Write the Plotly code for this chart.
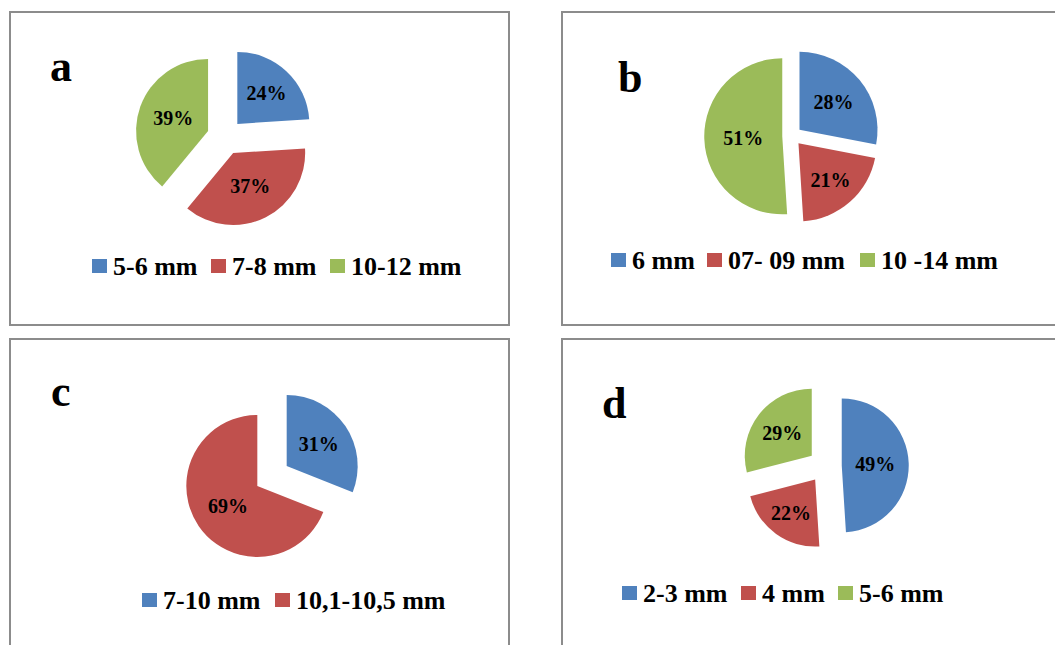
import plotly.graph_objects as go

# Size classes and their shares (%) for the four samples
labels_a = ["5-6 mm", "7-8 mm", "10-12 mm"]
values_a = [24, 37, 39]

labels_b = ["6 mm", "07- 09 mm", "10 -14 mm"]
values_b = [28, 21, 51]

labels_c = ["7-10 mm", "10,1-10,5 mm"]
values_c = [31, 69]

labels_d = ["2-3 mm", "4 mm", "5-6 mm"]
values_d = [49, 22, 29]

panel_letters = ["a", "b", "c", "d"]
colors = ["#4F81BD", "#C0504D", "#9BBB59"]

W, H = 1055, 645
SERIF = "Liberation Serif, Times New Roman, serif"


def fx(x):
    return x / W


def fy(y):
    return 1 - y / H


# panel layout in pixels: frame box, pie centre/radius/pull, legend row, letter
panels = [
    dict(labels=labels_a, values=values_a, frame=(10, 12, 509, 325),
         centre=(225, 137), radius=72, pull=0.25,
         legend_y=266, legend_x=[92, 211, 330], letter=(61, 67)),
    dict(labels=labels_b, values=values_b, frame=(562, 12, 1060, 325),
         centre=(792, 136), radius=78, pull=0.125,
         legend_y=260, legend_x=[611, 707, 860], letter=(630, 78)),
    dict(labels=labels_c, values=values_c, frame=(10, 339, 509, 650),
         centre=(272, 476), radius=71, pull=0.25,
         legend_y=600, legend_x=[142, 275], letter=(61, 391)),
    dict(labels=labels_d, values=values_d, frame=(562, 339, 1060, 650),
         centre=(825, 466), radius=67, pull=0.25,
         legend_y=593, legend_x=[622, 741, 838], letter=(614, 403)),
]

fig = go.Figure()
shapes = []
annotations = []

for letter, p in zip(panel_letters, panels):
    x0, y0, x1, y1 = p["frame"]
    shapes.append(dict(type="rect", xref="paper", yref="paper",
                       x0=fx(x0), x1=fx(x1), y0=fy(y1), y1=fy(y0),
                       line=dict(color="#8C8C8C", width=2),
                       fillcolor="rgba(0,0,0,0)", layer="below"))

    cx, cy = p["centre"]
    half = p["radius"] * (1 + p["pull"])
    n = len(p["values"])
    fig.add_trace(go.Pie(
        labels=p["labels"], values=p["values"],
        marker=dict(colors=colors[:n], line=dict(width=0)),
        pull=[p["pull"]] * n,
        sort=False, direction="clockwise", rotation=0,
        texttemplate="%{value}%", textposition="inside",
        insidetextorientation="horizontal",
        textfont=dict(family=SERIF, size=20, color="black", weight="bold"),
        domain=dict(x=[fx(cx - half), fx(cx + half)],
                    y=[fy(cy + half), fy(cy - half)]),
        showlegend=False, hoverinfo="label+percent",
    ))

    # legend row: square swatch followed by the class label
    ly = p["legend_y"]
    for i, lab in enumerate(p["labels"]):
        sx = p["legend_x"][i]
        shapes.append(dict(type="rect", xref="paper", yref="paper",
                           x0=fx(sx), x1=fx(sx + 15),
                           y0=fy(ly + 7), y1=fy(ly - 7),
                           line=dict(width=0), fillcolor=colors[i]))
        annotations.append(dict(x=fx(sx + 19), y=fy(ly), xref="paper", yref="paper",
                                text=lab, showarrow=False,
                                xanchor="left", yanchor="middle",
                                font=dict(family=SERIF, size=26, color="black",
                                          weight="bold")))

    lx, lyl = p["letter"]
    annotations.append(dict(x=fx(lx), y=fy(lyl), xref="paper", yref="paper",
                            text=letter, showarrow=False,
                            xanchor="center", yanchor="middle",
                            font=dict(family=SERIF, size=44, color="black",
                                      weight="bold")))

fig.update_layout(
    width=W, height=H,
    margin=dict(l=0, r=0, t=0, b=0),
    paper_bgcolor="white", plot_bgcolor="white",
    shapes=shapes, annotations=annotations,
    uniformtext=dict(minsize=20, mode="show"),
)

fig.write_html("out.html")
